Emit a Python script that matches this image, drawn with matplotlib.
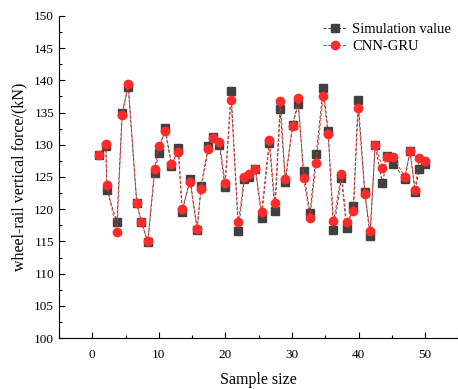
import matplotlib.pyplot as plt
from matplotlib.ticker import MultipleLocator

# sample positions
x = [0.99, 2.04, 2.19, 3.69, 4.5, 5.4, 6.69, 7.39, 8.34, 9.35,
     9.99, 10.95, 11.9, 12.94, 13.5, 14.7, 15.75, 16.35, 17.44, 18.2,
     19.1, 19.95, 20.85, 21.94, 22.84, 23.6, 24.5, 25.44, 26.6, 27.45,
     28.24, 29.0, 30.1, 30.94, 31.74, 32.7, 33.64, 34.7, 35.44, 36.24,
     37.44, 38.2, 39.24, 39.94, 40.95, 41.74, 42.5, 43.6, 44.34, 45.24,
     46.95, 47.74, 48.5, 49.1, 50.0]

simulation = [128.4, 129.8, 123.0, 118.0, 135.0, 139.0, 120.9, 118.0, 114.9, 125.6,
              128.7, 132.6, 126.7, 129.5, 119.6, 124.7, 116.8, 123.6, 129.8, 131.2,
              130.0, 123.5, 138.4, 116.6, 124.7, 125.0, 126.3, 118.7, 130.3, 119.7,
              135.5, 124.2, 133.1, 136.3, 125.9, 119.4, 128.5, 138.8, 132.1, 116.7,
              124.9, 117.1, 120.5, 136.9, 122.6, 115.8, 130.0, 124.0, 128.3, 127.0,
              124.7, 129.0, 122.7, 126.2, 127.0]

cnn_gru = [128.4, 130.1, 123.7, 116.5, 134.7, 139.4, 120.9, 118.0, 115.0, 126.2,
           129.8, 132.1, 127.0, 128.9, 120.1, 124.2, 117.0, 123.2, 129.4, 131.0,
           130.5, 124.1, 137.0, 118.0, 125.0, 125.4, 126.2, 119.6, 130.8, 120.9,
           136.8, 124.7, 132.9, 137.2, 124.9, 118.7, 127.2, 137.6, 131.6, 118.1,
           125.4, 118.0, 119.7, 135.7, 122.3, 116.6, 130.0, 126.4, 128.1, 128.1,
           125.0, 129.0, 123.0, 127.9, 127.5]

plt.rcParams['font.family'] = ['Liberation Serif', 'DejaVu Serif']

fig = plt.figure(figsize=(4.58, 3.89), dpi=100)
ax = fig.add_axes([0.1288, 0.131, 0.872, 0.828])

ax.plot(x, simulation, 's--', color='#404040', markersize=5.2, linewidth=0.7,
        dashes=(3, 2), label='Simulation value')
ax.plot(x, cnn_gru, 'o--', color='#ff2a2a', markersize=6, linewidth=0.7,
        dashes=(3, 2), label='CNN-GRU')

ax.set_xlim(-5, 55)
ax.set_ylim(100, 150)
ax.xaxis.set_major_locator(MultipleLocator(10))
ax.xaxis.set_minor_locator(MultipleLocator(5))
ax.yaxis.set_major_locator(MultipleLocator(5))
ax.yaxis.set_minor_locator(MultipleLocator(2.5))
ax.tick_params(which='both', direction='in', labelsize=9.5)
ax.tick_params(axis='x', which='major', pad=8)
ax.tick_params(which='major', length=4, width=0.8)
ax.tick_params(which='minor', length=2, width=0.8)
ax.spines['top'].set_visible(False)
ax.spines['right'].set_visible(False)

ax.set_xlabel('Sample size', fontsize=11.5, labelpad=8)
ax.set_ylabel('wheel-rail vertical force/(kN)', fontsize=11.5, labelpad=5)

ax.legend(loc='upper right', frameon=False, fontsize=10.5, handlelength=1.6,
          handletextpad=0.4, borderaxespad=0.1, labelspacing=0.25,
          bbox_to_anchor=(1.0, 1.0))

fig.savefig('out.png', dpi=100)
